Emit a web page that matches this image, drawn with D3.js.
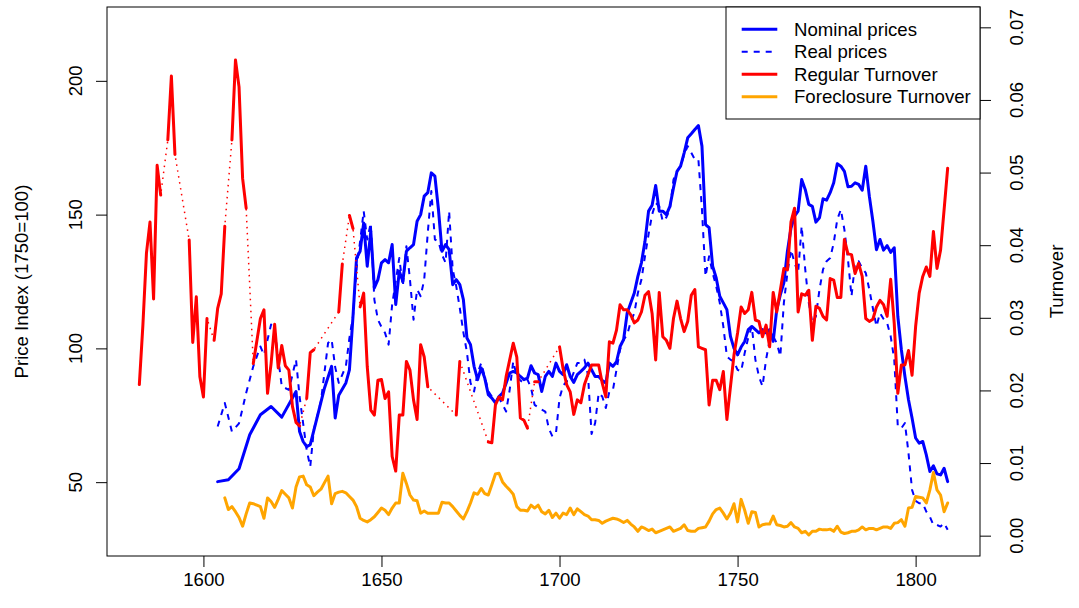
<!DOCTYPE html>
<html>
<head>
<meta charset="utf-8">
<script src="https://cdn.jsdelivr.net/npm/d3@7"></script>
<style>
  body { margin: 0; background: #fff; }
  text { font-family: "Liberation Sans", Arial, sans-serif; font-size: 18.6px; fill: #000; }
</style>
</head>
<body>
<script>
// nominal price index (1750=100), [year, value]
var nominal = [
  [1604,50.2],[1607,50.9],[1610,55.0],[1613,67.7],[1616,75.2],[1619,78.3],[1622,74.3],[1626,83.9],
  [1627,68.9],[1628,65.2],[1629,63.3],[1630,64.0],[1632,74.6],[1634,85.2],[1636,93.3],[1637,74.0],
  [1638,82.5],[1640,87.1],[1641,92.0],[1642,112],[1643,133.8],[1644,136.3],[1645,146.9],[1646,130.7],
  [1647,143.8],[1648,122.6],[1649,125.7],[1650,132.0],[1651,133.2],[1652,132.0],[1653,138.8],[1654,116.4],
  [1655,128.8],[1656,125.1],[1657,136.3],[1658,137.6],[1659,138.8],[1660,147.5],[1661,150.0],[1662,156.9],
  [1663,158.2],[1664,165.6],[1665,164.4],[1666,151.9],[1667,136.3],[1668,138.8],[1669,136.9],[1670,123.8],
  [1671,125.7],[1672,123.8],[1673,118.2],[1674,103.9],[1675,101.4],[1676,93.3],[1677,88.3],[1678,92.7],
  [1679,88.9],[1680,82.7],[1681,81.4],[1682,79.6],[1683,82.0],[1684,83.3],[1685,87.0],[1686,90.8],
  [1687,91.4],[1688,90.8],[1689,89.5],[1690,88.3],[1691,88.9],[1692,93.5],[1693,90.8],[1694,90.2],
  [1695,83.9],[1696,89.5],[1697,91.4],[1698,89.5],[1699,94.5],[1700,91.4],[1701,90.2],[1702,93.9],
  [1703,89.5],[1704,87.3],[1705,90.2],[1706,91.4],[1707,92.7],[1708,94.5],[1709,92.0],[1710,89.5],
  [1711,89.5],[1712,88.0],[1713,87.1],[1714,94.5],[1715,93.3],[1716,95.0],[1717,100.7],[1718,103.3],
  [1719,113.2],[1720,117.0],[1721,120.7],[1722,126.9],[1723,132.0],[1724,140.0],[1725,151.3],[1726,153.5],
  [1727,160.9],[1728,151.3],[1729,151.3],[1730,150.0],[1731,153.1],[1732,160.0],[1733,166.2],[1734,168.1],
  [1735,173.1],[1736,178.7],[1737,180.2],[1738,181.8],[1739,183.3],[1740,175.6],[1741,146.3],[1742,145.1],
  [1743,130.7],[1744,126.3],[1745,119.5],[1746,117.0],[1747,114.5],[1748,104.5],[1749,100.0],[1750,97.6],
  [1751,100.5],[1752,102.6],[1753,107.0],[1754,108.2],[1755,107.0],[1756,105.8],[1757,107.0],[1758,105.8],
  [1759,107.0],[1760,102.6],[1761,114.5],[1762,120.0],[1763,124.5],[1764,136.3],[1765,145.0],[1766,149.4],
  [1767,151.3],[1768,163.1],[1769,159.4],[1770,153.8],[1771,153.1],[1772,147.2],[1773,148.8],[1774,155.9],
  [1775,155.4],[1776,158.2],[1777,161.9],[1778,169.0],[1779,168.1],[1780,166.2],[1781,160.4],[1782,160.6],
  [1783,161.9],[1784,161.3],[1785,159.1],[1786,168.1],[1787,156.9],[1788,147.5],[1789,136.9],[1790,140.7],
  [1791,136.7],[1792,138.4],[1793,135.9],[1794,137.6],[1795,112.0],[1796,99.5],[1797,89.5],[1798,80.8],
  [1799,74.0],[1800,66.5],[1801,64.6],[1802,65.2],[1803,60.2],[1804,54.0],[1805,56.1],[1806,53.1],
  [1807,52.7],[1808,55.2],[1809,50.2]
];

// real price index, [year, value]
var real = [
  [1604,70.8],[1606,79.6],[1608,68.9],[1610,72.0],[1612,83.3],[1614,93.3],[1616,100.7],[1617,97.6],
  [1619,108.9],[1620,107.0],[1622,85.8],[1624,84.5],[1626,95.8],[1627,82.0],[1628,72.0],[1629,62.0],
  [1630,55.8],[1631,69.6],[1633,80.2],[1635,102.0],[1636,103.3],[1637,93.0],[1638,87.1],[1640,93.3],
  [1641,103.9],[1642,112.0],[1643,130.0],[1644,140.0],[1645,151.3],[1646,140.7],[1647,146.9],[1648,118.2],
  [1649,110.7],[1650,108.0],[1651,105.8],[1652,101.4],[1653,116.4],[1654,125.0],[1655,133.8],[1656,123.2],
  [1657,138.2],[1658,125.7],[1659,110.7],[1660,122.0],[1661,119.5],[1662,125.7],[1663,143.2],[1664,158.8],
  [1665,140.7],[1666,140.0],[1667,135.0],[1668,132.0],[1669,151.3],[1670,129.5],[1671,123.2],[1672,115.0],
  [1673,106.0],[1674,98.5],[1675,87.1],[1676,83.9],[1677,90.8],[1678,94.5],[1679,89.5],[1680,84.0],
  [1681,82.0],[1682,82.0],[1683,81.5],[1684,79.0],[1685,76.4],[1686,84.5],[1687,95.1],[1688,89.5],
  [1689,88.0],[1690,87.1],[1691,88.3],[1692,85.2],[1693,78.9],[1694,78.0],[1695,77.1],[1696,76.4],
  [1697,70.0],[1698,67.1],[1699,68.3],[1700,81.4],[1701,86.0],[1702,87.7],[1703,87.7],[1704,91.0],
  [1705,94.5],[1706,94.5],[1707,95.8],[1708,90.0],[1709,68.0],[1710,72.1],[1711,83.3],[1712,82.0],
  [1713,77.7],[1714,83.9],[1715,84.5],[1716,92.0],[1717,99.5],[1718,103.3],[1719,105.1],[1720,110.0],
  [1721,113.2],[1722,120.7],[1723,125.7],[1724,134.4],[1725,142.6],[1726,150.0],[1727,154.4],[1728,153.1],
  [1729,147.5],[1730,149.0],[1731,152.0],[1732,163.1],[1733,166.2],[1734,168.1],[1735,172.5],[1736,175.6],
  [1737,173.1],[1738,170.6],[1739,170.6],[1740,151.9],[1741,126.9],[1742,134.4],[1743,128.2],[1744,123.2],
  [1745,117.0],[1746,108.2],[1747,97.0],[1748,95.8],[1749,95.0],[1750,92.0],[1751,91.4],[1752,98.3],
  [1753,104.0],[1754,108.2],[1755,95.8],[1756,89.5],[1757,85.8],[1758,95.8],[1759,103.0],[1760,104.5],
  [1761,102.0],[1762,97.0],[1763,117.0],[1764,128.2],[1765,136.9],[1766,132.0],[1767,128.2],[1768,145.7],
  [1769,129.5],[1770,117.0],[1771,109.5],[1772,112.0],[1773,122.0],[1774,129.5],[1775,132.6],[1776,133.8],
  [1777,139.4],[1778,148.2],[1779,151.9],[1780,144.4],[1781,133.2],[1782,119.5],[1783,132.0],[1784,132.6],
  [1785,130.0],[1786,128.2],[1787,122.0],[1788,115.0],[1789,108.2],[1790,113.2],[1791,111.0],[1792,109.5],
  [1793,104.5],[1794,95.8],[1795,70.8],[1796,70.2],[1797,72.1],[1798,60.9],[1799,47.1],[1800,43.0],
  [1801,42.1],[1802,42.1],[1803,39.0],[1804,37.1],[1805,34.0],[1806,34.0],[1807,33.4],[1808,34.7],
  [1809,32.2]
];

// regular turnover, one value per year from 1582 (null = missing)
var regularStart = 1582;
var regular = [
  .0208,.0290,.0389,.0432,.0326,.0510,.0469,null,
  .0545,.0633,.0525,null,null,null,.0407,.0266,.0329,.0219,
  .0191,.0299,null,.0269,.0313,.0333,.0426,null,.0545,.0655,
  .0618,.0492,.0451,null,.0237,.0268,.0299,.0311,.0196,.0237,
  .0291,.0231,.0262,.0234,.0228,.0178,.0156,.0151,null,.0189,
  .0252,.0256,null,null,null,null,null,null,.0308,.0374,
  null,.0441,.0423,null,.0315,.0334,.0233,.0173,.0166,.0214,
  .0215,.0189,.0198,.0109,.0089,.0166,.0166,.0240,.0228,.0187,
  .0160,.0263,.0246,.0205,null,null,null,null,null,null,
  null,.0166,.0240,null,null,null,null,null,null,null,
  .0129,.0128,.0180,.0191,.0187,.0219,.0242,.0265,.0246,.0162,
  .0159,.0148,null,.0212,.0212,null,null,null,null,null,
  .0260,.0230,.0208,.0198,.0167,.0187,.0183,.0208,.0222,.0235,
  .0235,.0235,.0210,.0191,.0267,.0265,.0283,.0318,.0311,.0311,
  .0304,.0293,.0297,.0308,.0331,.0336,.0306,.0242,.0335,.0274,
  .0269,.0258,.0299,.0323,.0299,.0281,.0295,.0331,.0339,.0260,
  .0258,.0256,.0180,.0214,.0214,.0201,.0226,.0160,.0205,.0249,
  .0279,.0315,.0306,.0311,.0335,.0297,.0295,.0274,.0290,.0260,
  .0335,.0308,.0338,.0368,.0366,.0432,.0451,.0308,.0333,.0331,
  .0338,.0269,.0316,.0313,.0302,.0297,.0354,.0352,.0328,.0328,
  .0408,.0388,.0387,.0361,.0375,.0357,.0299,.0295,.0298,.0315,
  .0324,.0318,.0302,.0353,.0292,.0196,.0235,.0235,.0255,.0221,
  .0288,.0334,.0357,.0370,.0357,.0419,.0368,.0393,.0449,.0506
];

// foreclosure turnover, one value per year from 1606
var foreclosureStart = 1606;
var foreclosure = [
  .0052,.0036,.0040,.0033,
  .0025,.0013,.0030,.0045,.0044,.0042,.0040,.0024,.0052,.0047,
  .0039,.0050,.0062,.0057,.0052,.0038,.0067,.0081,.0082,.0070,
  .0067,.0055,.0060,.0064,.0073,.0082,.0044,.0058,.0060,.0061,
  .0059,.0054,.0049,.0040,.0024,.0021,.0019,.0022,.0026,.0032,
  .0038,.0035,.0029,.0038,.0045,.0045,.0086,.0072,.0056,.0049,
  .0048,.0031,.0034,.0031,.0031,.0031,.0031,.0046,.0045,.0045,
  .0040,.0034,.0028,.0023,.0033,.0045,.0059,.0057,.0065,.0058,
  .0056,.0070,.0085,.0086,.0074,.0068,.0063,.0057,.0040,.0035,
  .0035,.0034,.0042,.0038,.0042,.0033,.0030,.0035,.0025,.0031,
  .0024,.0031,.0029,.0038,.0029,.0037,.0033,.0029,.0027,.0022,
  .0022,.0021,.0017,.0020,.0022,.0024,.0023,.0021,.0018,.0021,
  .0016,.0012,.0006,.0012,.0010,.0007,.0009,.0004,.0006,.0008,
  .0010,.0012,.0006,.0008,.0010,.0015,.0007,.0006,.0006,.0010,
  .0011,.0012,.0020,.0030,.0036,.0038,.0031,.0023,.0031,.0044,
  .0019,.0050,.0035,.0017,.0033,.0032,.0012,.0015,.0016,.0016,
  .0027,.0015,.0014,.0012,.0013,.0018,.0012,.0010,.0004,.0006,
  .0001,.0006,.0006,.0009,.0008,.0008,.0009,.0006,.0013,.0005,
  .0003,.0004,.0006,.0006,.0008,.0012,.0008,.0010,.0010,.0008,
  .0010,.0012,.0012,.0010,.0017,.0018,.0022,.0013,.0038,.0039,
  .0054,.0053,.0052,.0045,.0063,.0087,.0063,.0056,.0033,.0045
];

var yearTicks = [1600, 1650, 1700, 1750, 1800];
var priceTicks = [50, 100, 150, 200];
var turnoverTicks = [0, 0.01, 0.02, 0.03, 0.04, 0.05, 0.06, 0.07];
var legendItems = [
  { label: "Nominal prices", color: "#0000ff", dash: null, width: 3 },
  { label: "Real prices", color: "#0000ff", dash: "6,6", width: 2 },
  { label: "Regular Turnover", color: "#ff0000", dash: null, width: 3 },
  { label: "Foreclosure Turnover", color: "#ffa500", dash: null, width: 3 }
];

var W = 1079, H = 608;
var plot = { left: 107, right: 980, top: 7, bottom: 556 };

var x = d3.scaleLinear().domain([1572.92, 1818.08]).range([plot.left, plot.right]);
var yP = d3.scaleLinear().domain([22.4, 227.6]).range([plot.bottom, plot.top]);
var yT = d3.scaleLinear().domain([-0.0028, 0.0728]).range([plot.bottom, plot.top]);

var svg = d3.select("body").append("svg")
    .attr("width", W)
    .attr("height", H);

var regularData = regular.map(function(v, i) { return { year: regularStart + i, value: v }; });
var foreclosureData = foreclosure.map(function(v, i) { return { year: foreclosureStart + i, value: v }; });

var priceLine = d3.line()
    .x(function(d) { return x(d[0]); })
    .y(function(d) { return yP(d[1]); });

var turnLine = d3.line()
    .defined(function(d) { return d.value !== null; })
    .x(function(d) { return x(d.year); })
    .y(function(d) { return yT(d.value); });

function styled(path, color, width, dash) {
    path.attr("fill", "none")
        .attr("stroke", color)
        .attr("stroke-width", width)
        .attr("stroke-linejoin", "round")
        .attr("stroke-linecap", dash ? "butt" : "round");
    if (dash) path.attr("stroke-dasharray", dash);
    return path;
}

var g = svg.append("g").attr("class", "series");

styled(g.append("path").datum(nominal).attr("d", priceLine), "#0000ff", 3);
styled(g.append("path").datum(real).attr("d", priceLine), "#0000ff", 2, "6,6");

// dotted red across gaps, then solid where data exist
styled(g.append("path").datum(regularData.filter(function(d) { return d.value !== null; })).attr("d", turnLine),
    "#ff0000", 1.5, "1.5,4.5");
styled(g.append("path").datum(regularData).attr("d", turnLine), "#ff0000", 3);
styled(g.append("path").datum(foreclosureData).attr("d", turnLine), "#ffa500", 3);

// box
svg.append("rect")
    .attr("x", plot.left).attr("y", plot.top)
    .attr("width", plot.right - plot.left).attr("height", plot.bottom - plot.top)
    .attr("fill", "none").attr("stroke", "#000").attr("stroke-width", 1);

// bottom axis
var xAxis = svg.append("g")
    .attr("transform", "translate(0," + plot.bottom + ")")
    .call(d3.axisBottom(x).tickValues(yearTicks).tickFormat(d3.format("d")).tickSize(11).tickSizeOuter(0).tickPadding(6));
xAxis.select(".domain").remove();
xAxis.selectAll("text").style("font-size", "18.6px").attr("fill", "#000");

// left axis, labels parallel to axis
var yAxisL = svg.append("g")
    .attr("transform", "translate(" + plot.left + ",0)")
    .call(d3.axisLeft(yP).tickValues(priceTicks).tickSize(11).tickSizeOuter(0).tickFormat(""));
yAxisL.select(".domain").remove();
svg.append("g").selectAll("text").data(priceTicks).enter().append("text")
    .attr("transform", function(d) { return "translate(82," + yP(d) + ") rotate(-90)"; })
    .attr("text-anchor", "middle")
    .text(function(d) { return d; });

// right axis
var yAxisR = svg.append("g")
    .attr("transform", "translate(" + plot.right + ",0)")
    .call(d3.axisRight(yT).tickValues(turnoverTicks).tickSize(11).tickSizeOuter(0).tickFormat(""));
yAxisR.select(".domain").remove();
svg.append("g").selectAll("text").data(turnoverTicks).enter().append("text")
    .attr("transform", function(d) { return "translate(1023," + yT(d) + ") rotate(-90)"; })
    .attr("text-anchor", "middle")
    .text(function(d) { return d3.format(".2f")(d); });

// axis titles
var midY = (plot.top + plot.bottom) / 2;
svg.append("text")
    .attr("transform", "translate(28," + midY + ") rotate(-90)")
    .attr("text-anchor", "middle")
    .text("Price Index (1750=100)");
svg.append("text")
    .attr("transform", "translate(1063," + midY + ") rotate(-90)")
    .attr("text-anchor", "middle")
    .text("Turnover");

// legend
var leg = svg.append("g");
leg.append("rect")
    .attr("x", 726).attr("y", plot.top)
    .attr("width", plot.right - 726).attr("height", 112)
    .attr("fill", "#fff").attr("stroke", "#000").attr("stroke-width", 1);
var rows = leg.selectAll("g.row").data(legendItems).enter().append("g")
    .attr("class", "row")
    .attr("transform", function(d, i) { return "translate(0," + (29.3 + i * 22.45) + ")"; });
rows.each(function(d) {
    var r = d3.select(this);
    var p = r.append("path").attr("d", "M741.7,0H777.3");
    styled(p, d.color, d.width, d.dash);
    if (!d.dash) p.attr("stroke-linecap", "butt");
    r.append("text")
        .attr("x", 794)
        .attr("dy", "0.35em")
        .text(d.label);
});
</script>
</body>
</html>
